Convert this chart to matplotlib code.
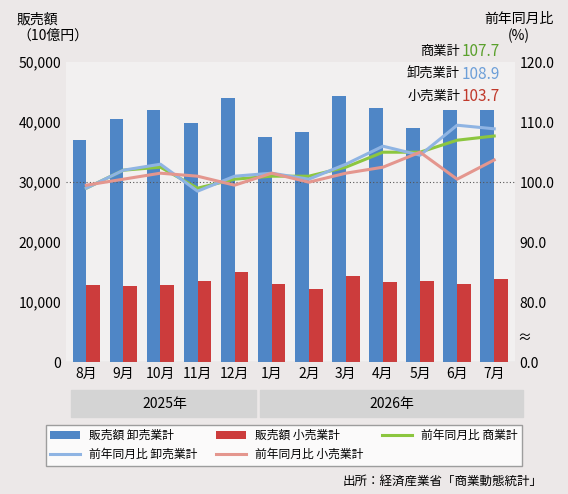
import matplotlib
matplotlib.use("Agg")
import matplotlib.pyplot as plt
import numpy as np

plt.rcParams['font.family'] = ['Noto Sans CJK JP', 'DejaVu Sans']

months = ["8月", "9月", "10月", "11月", "12月", "1月", "2月", "3月", "4月", "5月", "6月", "7月"]
wholesale = [37000, 40500, 42000, 39800, 44000, 37500, 38300, 44300, 42400, 39000, 42000, 42000]
retail = [12800, 12700, 12900, 13500, 15000, 13100, 12200, 14400, 13400, 13500, 13100, 13900]
yoy_total = [99.0, 102.0, 102.5, 99.0, 100.5, 101.0, 101.0, 102.5, 105.0, 105.0, 107.0, 107.7]
yoy_wholesale = [99.0, 102.0, 103.0, 98.5, 101.0, 101.5, 100.5, 103.0, 106.0, 104.5, 109.5, 108.9]
yoy_retail = [99.5, 100.5, 101.5, 101.0, 99.5, 101.5, 100.0, 101.5, 102.5, 105.0, 100.5, 103.7]

BLUE = "#4f86c6"
RED = "#cc3c3c"
GREEN = "#8cc63f"
LBLUE = "#8fb4e3"
PINK = "#e4968e"

fig = plt.figure(figsize=(5.68, 4.94), dpi=100)
fig.patch.set_facecolor("#ece8e8")
ax = fig.add_axes([0.116, 0.267, 0.79, 0.607])
ax.set_facecolor((1, 1, 1, 0.35))
x = np.arange(len(months))
w = 0.37
ax.bar(x - w / 2, wholesale, w, color=BLUE, label="販売額 卸売業計")
ax.bar(x + w / 2, retail, w, color=RED, label="販売額 小売業計")
ax.set_ylim(0, 50000)
ax.set_xlim(-0.55, 11.55)
ax.set_yticks(range(0, 50001, 10000))
ax.set_yticklabels([f"{v:,}" for v in range(0, 50001, 10000)], fontsize=10)
ax.set_xticks(x)
ax.set_xticklabels(months, fontsize=10)
ax.tick_params(length=0)
for s in ax.spines.values():
    s.set_visible(False)
ax.axhline(0, color="#888888", lw=0.8)

ax2 = ax.twinx()
ax2.set_ylim(70, 120)
ax2.axhline(100, color="#555555", lw=0.8, ls=(0, (1, 2)))
ax2.plot(x, yoy_total, color=GREEN, lw=2.2, label="前年同月比 商業計")
ax2.plot(x, yoy_wholesale, color=LBLUE, lw=2.2, label="前年同月比 卸売業計")
ax2.plot(x, yoy_retail, color=PINK, lw=2.2, label="前年同月比 小売業計")
ax2.set_yticks([70, 80, 90, 100, 110, 120])
ax2.set_yticklabels(["0.0", "80.0", "90.0", "100.0", "110.0", "120.0"], fontsize=10)
ax2.tick_params(length=0)
for s in ax2.spines.values():
    s.set_visible(False)
ax2.text(1.005, 74, "≈", transform=ax2.get_yaxis_transform(), fontsize=10, va="center")

fig.text(0.03, 0.975, "販売額\n（10億円）", fontsize=10, va="top")
fig.text(0.975, 0.975, "前年同月比\n(%)", fontsize=10, va="top", ha="right", multialignment="center")
for yy, name, val, c in [(0.895, "商業計", "107.7", "#5aa02c"), (0.85, "卸売業計", "108.9", "#6d9fd8"),
                         (0.805, "小売業計", "103.7", "#c0392b")]:
    fig.text(0.81, yy, name, fontsize=9.5, ha="right", va="center")
    fig.text(0.813, yy, val, fontsize=11, color=c, ha="left", va="center")

# year bands
fig.patches.append(plt.Rectangle((0.125, 0.155), 0.325, 0.055, transform=fig.transFigure, color="#d4d4d4"))
fig.patches.append(plt.Rectangle((0.458, 0.155), 0.462, 0.055, transform=fig.transFigure, color="#d4d4d4"))
fig.text(0.29, 0.182, "2025年", fontsize=10, ha="center", va="center")
fig.text(0.69, 0.182, "2026年", fontsize=10, ha="center", va="center")

h1, l1 = ax.get_legend_handles_labels()
h2, l2 = ax2.get_legend_handles_labels()
handles = [h1[0], h2[1], h1[1], h2[2], h2[0]]
labels = [l1[0], l2[1], l1[1], l2[2], l2[0]]
leg = fig.legend(handles, labels, loc="lower left", bbox_to_anchor=(0.07, 0.045, 0.86, 0.08),
                 ncol=3, mode="expand", fontsize=8.5, frameon=True, fancybox=False,
                 edgecolor="#888888", handlelength=2.5, borderpad=0.4)
leg.get_frame().set_facecolor("white")
fig.text(0.955, 0.012, "出所：経済産業省「商業動態統計」", fontsize=9, ha="right", va="bottom")

fig.savefig("out.png", dpi=100)
